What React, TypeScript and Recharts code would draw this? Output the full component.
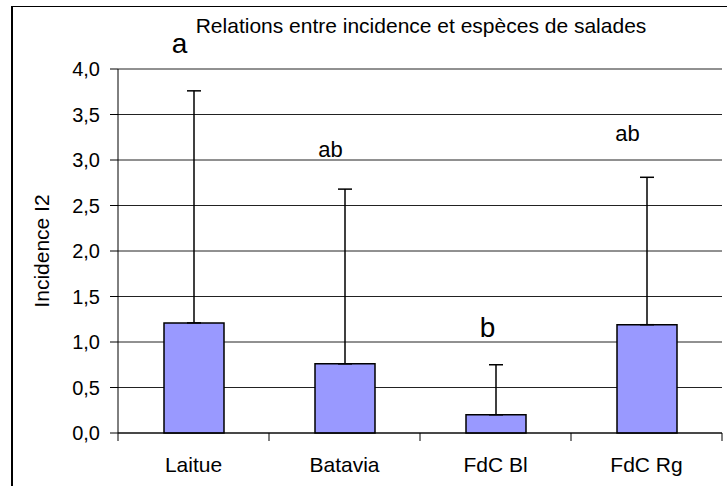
import React from 'react';
import {
  ComposedChart,
  Bar,
  XAxis,
  YAxis,
  CartesianGrid,
  ErrorBar,
  ReferenceDot
} from 'recharts';

const categories = ['Laitue', 'Batavia', 'FdC Bl', 'FdC Rg'];
const incidence = [1.21, 0.76, 0.2, 1.19];
const errorUp = [2.55, 1.92, 0.55, 1.62];
const groupLetters = ['a', 'ab', 'b', 'ab'];
const letterLevels = [4.18, 3.03, 1.05, 3.21];
const yTicks = [0, 0.5, 1, 1.5, 2, 2.5, 3, 3.5, 4];

// hand placement of the group letters (px), as in the original sheet
const LETTER_DX = [-14, -14, -8, -19];
const LETTER_SIZE = [28, 22, 28, 22];

const FONT = '"Liberation Sans", Arial, sans-serif';
const TICK_GAP = 24;

const data = categories.map((name, i) => ({
  name,
  value: incidence[i],
  err: [0, errorUp[i]]
}));

const fmt = (v: number) => v.toFixed(1).replace('.', ',');

const YLabel = (props: any) => {
  const vb = props.viewBox || { x: 0, y: 0, height: 0 };
  const x = vb.x + 41;
  const y = vb.y + vb.height / 2;
  return (
    <text
      x={x}
      y={y}
      transform={`rotate(-90 ${x} ${y})`}
      textAnchor="middle"
      dominantBaseline="central"
      fontSize={21}
      fill="#000"
    >
      Incidence I2
    </text>
  );
};

// category label plus Excel-style tick marks on the category edges
const CatTick = (props: any) => {
  const { x, y, payload, index, visibleTicksCount } = props;
  const half = payload && payload.offset ? payload.offset : 75.5;
  const axisY = y - TICK_GAP;
  const last = index === (visibleTicksCount || categories.length) - 1;
  return (
    <g>
      <line x1={x - half} x2={x - half} y1={axisY} y2={axisY + 8} stroke="#000" />
      {last && <line x1={x + half} x2={x + half} y1={axisY} y2={axisY + 8} stroke="#000" />}
      <text x={x} y={y} dy="0.71em" textAnchor="middle" fontSize={21} fill="#000">
        {payload.value}
      </text>
    </g>
  );
};

const App: React.FC = () => {
  return (
    <div
      style={{
        position: 'fixed',
        left: 0,
        top: 0,
        width: 727,
        height: 486,
        overflow: 'hidden',
        background: '#fff',
        fontFamily: FONT
      }}
    >
      {/* chart frame, runs off the right and bottom of the picture */}
      <div
        style={{
          position: 'absolute',
          left: 11,
          top: 6,
          width: 800,
          height: 600,
          borderLeft: '2px solid #000',
          borderTop: '1px solid #000'
        }}
      />
      <div
        style={{
          position: 'absolute',
          left: 121,
          top: 15,
          width: 600,
          textAlign: 'center',
          fontSize: 21,
          lineHeight: '21px',
          color: '#000'
        }}
      >
        Relations entre incidence et espèces de salades
      </div>
      <div style={{ position: 'absolute', left: 0, top: 0 }}>
        <ComposedChart
          width={727}
          height={486}
          data={data}
          margin={{ top: 69, right: 5, bottom: 0, left: 0 }}
          style={{ fontFamily: FONT }}
        >
          <CartesianGrid vertical={false} stroke="#222" strokeWidth={1} />
          <XAxis
            dataKey="name"
            type="category"
            height={53}
            interval={0}
            tickLine={false}
            tickSize={0}
            tickMargin={TICK_GAP}
            axisLine={{ stroke: '#000' }}
            tick={<CatTick />}
          />
          <YAxis
            width={118}
            domain={[0, 4]}
            ticks={yTicks}
            tickFormatter={fmt}
            tickSize={8}
            tickMargin={10}
            axisLine={{ stroke: '#000' }}
            tickLine={{ stroke: '#000' }}
            tick={{ fill: '#000', fontSize: 20 }}
            label={{ content: <YLabel /> }}
          />
          <YAxis
            yAxisId="right"
            orientation="right"
            width={0}
            domain={[0, 4]}
            tick={false}
            tickLine={false}
            axisLine={{ stroke: '#808080' }}
          />
          <Bar
            dataKey="value"
            fill="#9999FF"
            stroke="#000"
            strokeWidth={1.5}
            barSize={60}
            isAnimationActive={false}
          >
            <ErrorBar
              dataKey="err"
              width={7}
              stroke="#000"
              strokeWidth={1.5}
              isAnimationActive={false}
            />
          </Bar>
          {groupLetters.map((letter, i) => (
            <ReferenceDot
              key={`letter-${i}`}
              x={categories[i]}
              y={letterLevels[i]}
              r={0}
              ifOverflow="visible"
              shape={(p: any) => (
                <text
                  x={p.cx + LETTER_DX[i]}
                  y={p.cy}
                  textAnchor="middle"
                  fontSize={LETTER_SIZE[i]}
                  fill="#000"
                  fontFamily={FONT}
                >
                  {letter}
                </text>
              )}
            />
          ))}
        </ComposedChart>
      </div>
    </div>
  );
};

export default App;
